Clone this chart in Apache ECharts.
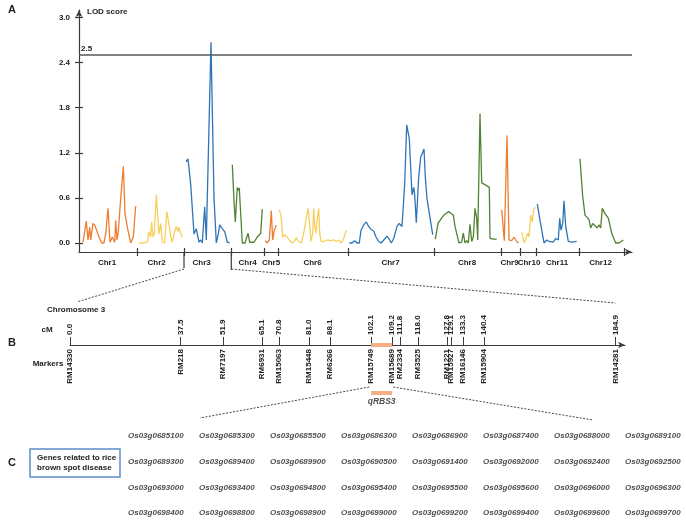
<!DOCTYPE html>
<html>
<head>
<meta charset="utf-8">
<script src="https://cdn.jsdelivr.net/npm/echarts@6/dist/echarts.min.js"></script>
<style>
  html, body { margin: 0; background: #fff; }
  #chart { width: 686px; height: 520px; }
</style>
</head>
<body>
<div id="chart"></div>
<script>
// ---- panel A: LOD curves, x = cumulative position along the genome ----
const chrNames = ["Chr1", "Chr2", "Chr3", "Chr4", "Chr5", "Chr6", "Chr7", "Chr8", "Chr9", "Chr10", "Chr11", "Chr12"];
const chrBounds = [58.7, 105, 152.3, 185, 199.3, 269.5, 355.3, 422.3, 441.3, 457.7, 500.3, 545];
const chrLabelPos = [28, 77.7, 122.7, 168.7, 192, 233.5, 311.5, 388, 430.5, 450, 478, 521.5];
const lodTicks = [0, 0.6, 1.2, 1.8, 2.4, 3.0];
const threshold = 2.5;

const chr1 = [[4, 0.01], [7.3, 0.29], [9, 0.04], [10.7, 0.21], [11.7, 0.04], [14, 0.26], [16, 0.23], [20, 0.08], [22.7, 0], [25, 0], [26.7, 0.12], [29, 0.46], [31, 0.01], [33.3, 0.08], [34.7, 0.1], [35.7, 0.01], [36.7, 0.3], [38, 0.04], [39.3, 0.15], [41.3, 0.52], [44.3, 1.02], [46, 0.39], [48.3, 0.21], [51.7, 0], [54.3, 0.08], [56.7, 0.49]];
const chr2 = [[60, 0], [65, 0], [68.3, 0.01], [70, 0.15], [71.7, 0.08], [72.7, 0.28], [74, 0.08], [75.3, 0.12], [77.3, 0.64], [78.7, 0.37], [80, 0.12], [81.7, 0.26], [83.3, 0.01], [85.7, 0], [87.7, 0.42], [89.3, 0.3], [91.7, 0.09], [93.3, 0.01], [95, 0.12], [97.3, 0.22], [99, 0.15], [100, 0.21], [101.7, 0.13], [103.3, 0.08]];
const chr3 = [[107, 1.08], [109, 1.12], [111.7, 0.78], [115, 0.12], [117.3, 0.19], [120, 0.01], [121.7, 0.04], [123.3, 0], [125.7, 0.48], [127.3, 0.04], [132, 2.67], [135, 0.6], [137.3, 0], [139.3, 0.12], [140.7, 0.24], [143.3, 0.19], [145.7, 0.15], [148.3, 0.01], [150.7, 0]];
const chr4 = [[153.3, 1.04], [155, 0.56], [156.3, 0.28], [158.3, 0.74], [159.3, 0.7], [160.3, 0.73], [161.7, 0.39], [163.3, 0], [166, 0], [167.7, 0], [169, 0.13], [170.7, 0.01], [172.3, 0], [175, 0.01], [178.3, 0.08], [181.7, 0.13], [183.3, 0.45]];
const chr5 = [[186.3, 0.03], [188, 0], [190.3, 0.04], [192.3, 0.43], [193.7, 0.04], [195.3, 0.17], [197.3, 0.24]];
const chr6 = [[200.3, 0.44], [202, 0.37], [203.7, 0.08], [205.7, 0.11], [208, 0.08], [210.3, 0.04], [213, 0], [215.3, 0.02], [217.3, 0.07], [219.7, 0.02], [222.3, 0], [224.7, 0.13], [227.3, 0.33], [229, 0.46], [230.3, 0.3], [232, 0.02], [233.7, 0.13], [234.7, 0.46], [235.7, 0.22], [237, 0.13], [238, 0.3], [239.7, 0.46], [240.7, 0.13], [242, 0.02], [244.7, 0.02], [248, 0.04], [251.3, 0.03], [254.7, 0.04], [257, 0.02], [259.7, 0.04], [262.3, 0], [264.7, 0.06], [267.3, 0.17]];
const chr7 = [[270.3, 0], [273, 0], [275.7, 0.03], [278, 0], [280.3, 0], [282, 0.17], [284.7, 0.24], [287.3, 0.28], [289.7, 0.22], [292, 0.18], [294.7, 0.16], [297, 0.08], [299.7, 0.02], [302, 0], [304.7, 0.04], [308, 0.09], [310.3, 0.05], [312.3, 0], [314.7, 0.06], [318, 0.22], [320.3, 0.26], [323, 0.22], [325.7, 0.79], [327.7, 1.57], [330.3, 1.39], [333, 0.64], [334.7, 0.74], [335.7, 0.64], [337.3, 0.27], [339.7, 0.88], [341.7, 1.14], [345, 1.25], [346.3, 0.88], [348, 0.59], [351.3, 0.31], [353.7, 0.11]];
const chr8 = [[356.3, 0.05], [359, 0.26], [364.7, 0.37], [369.7, 0.42], [374.3, 0.37], [376, 0.22], [380, 0], [382.7, 0.01], [384.3, 0.13], [386, 0], [387.7, 0.03], [389.3, 0], [391, 0.25], [392.7, 0.02], [394.3, 0.08], [396, 0.46], [397.7, 0.33], [398.7, 0.04], [401, 1.72], [402.7, 0.8], [406.7, 0.77], [410.3, 0.74], [411, 0.06], [414.3, 0.05], [417.7, 0.05]];
const chr9 = [[422.7, 0.44], [425.3, 0.03], [428, 1.43], [430, 0.04], [432.7, 0.03], [435, 0.08], [437.7, 0.02], [439.3, 0]];
const chr10 = [[442.7, 0.14], [445, 0], [447, 0.06], [448.7, 0.13], [450, 0.08], [451.7, 0.37], [453.3, 0.28], [454.7, 0.44], [456, 0.48]];
const chr11 = [[458.3, 0.52], [461, 0.3], [465, 0], [467.7, 0.04], [470, 0.02], [472, 0.04], [474.3, 0.01], [476.7, 0.06], [479.3, 0.04], [480.7, 0.33], [482, 0.17], [483.7, 0.26], [485, 0.56], [486.7, 0.22], [489.3, 0.02], [492.7, 0.01], [497.7, 0.02]];
const chr12 = [[501, 1.12], [503.7, 0.62], [506, 0.37], [507.7, 0.39], [510, 0.31], [511.7, 0.2], [513.7, 0.26], [516, 0.23], [518.3, 0.2], [520, 0.24], [521.7, 0.2], [523.3, 0.46], [526, 0.39], [529.3, 0.33], [532.7, 0.13], [536.7, 0], [540, 0], [542, 0], [544.3, 0.04]];
const chrData = [chr1, chr2, chr3, chr4, chr5, chr6, chr7, chr8, chr9, chr10, chr11, chr12];

// ---- panel B: chromosome 3 linkage map ----
const cmValues = [0.0, 37.5, 51.9, 65.1, 70.8, 81.0, 88.1, 102.1, 109.2, 111.8, 118.0, 127.8, 129.1, 133.3, 140.4, 184.9];
const markers = ["RM14330", "RM218", "RM7197", "RM6931", "RM15063", "RM15448", "RM6266", "RM15749", "RM15689", "RM2334", "RM3525", "RM1221", "RM15927", "RM16146", "RM15904", "RM14281"];
const qtlInterval = [102.1, 109.2];
const qtlName = "qRBS3";

// ---- panel C: candidate genes ----
const genes = [
  "Os03g0685100", "Os03g0685300", "Os03g0685500", "Os03g0686300", "Os03g0686900", "Os03g0687400", "Os03g0688000", "Os03g0689100",
  "Os03g0689300", "Os03g0689400", "Os03g0689900", "Os03g0690500", "Os03g0691400", "Os03g0692000", "Os03g0692400", "Os03g0692500",
  "Os03g0693000", "Os03g0693400", "Os03g0694800", "Os03g0695400", "Os03g0695500", "Os03g0695600", "Os03g0696000", "Os03g0696300",
  "Os03g0698400", "Os03g0698800", "Os03g0698900", "Os03g0699000", "Os03g0699200", "Os03g0699400", "Os03g0699600", "Os03g0699700"
];
const geneCols = 8;

// colours cycle orange / yellow / blue / green
const palette = ["#ED7D31", "#F7CF5B", "#2E75B6", "#548235"];
const AXIS = "#3a3a3a";
const TXT = "#222";
const FONT = "Liberation Sans, Arial, sans-serif";
const bold8 = { fontFamily: FONT, fontSize: 8, fontWeight: "bold", color: TXT };

const chart = echarts.init(document.getElementById("chart"));

const lodSeries = chrData.map((d, i) => ({
  name: chrNames[i],
  type: "line",
  xAxisIndex: 0,
  yAxisIndex: 0,
  data: d,
  showSymbol: false,
  lineStyle: { width: 1.3, color: palette[i % 4] },
  markLine: i === 0 ? {
    silent: true,
    symbol: "none",
    data: [{ yAxis: threshold }],
    lineStyle: { color: "#5a5a5a", width: 1.5, type: "solid" },
    label: { show: true, position: "insideStartTop", formatter: "2.5", distance: 2, ...bold8 }
  } : undefined
}));

chart.setOption({
  animation: false,
  grid: [
    { left: 79, top: 10, width: 553, height: 242 },   // A
    { left: 70, top: 345, width: 555, height: 50 },   // B
    { left: 128, top: 436, width: 497, height: 77 }   // C
  ],
  xAxis: [
    {
      gridIndex: 0, type: "value", min: 0, max: 553, position: "bottom",
      axisLine: { show: true, onZero: false, symbol: ["none", "arrow"], symbolSize: [5, 7], lineStyle: { color: AXIS, width: 1.2 } },
      axisTick: { show: true, length: 4, customValues: chrBounds, lineStyle: { color: AXIS, width: 1.2 } },
      axisLabel: { show: false },
      splitLine: { show: false }
    },
    {
      gridIndex: 0, type: "value", min: 0, max: 553, position: "bottom",
      axisLine: { show: false, onZero: false },
      axisTick: { show: true, inside: true, length: 4, customValues: chrBounds, lineStyle: { color: AXIS, width: 1.2 } },
      axisLabel: { customValues: chrLabelPos, formatter: v => chrNames[chrLabelPos.indexOf(v)], margin: 7, ...bold8 },
      splitLine: { show: false }
    },
    {
      gridIndex: 1, type: "value", min: 0, max: 555 / 2.95, position: "top",
      axisLine: { show: true, onZero: false, symbol: ["none", "arrow"], symbolSize: [5, 7], lineStyle: { color: AXIS, width: 1.2 } },
      axisTick: { show: true, length: 8, customValues: cmValues, lineStyle: { color: AXIS, width: 1 } },
      axisLabel: { customValues: cmValues, rotate: -90, margin: 10, formatter: v => v.toFixed(1), ...bold8 },
      splitLine: { show: false }
    },
    {
      gridIndex: 1, type: "value", min: 0, max: 555 / 2.95, position: "bottom", offset: -50,
      axisLine: { show: false, onZero: false },
      axisTick: { show: false },
      axisLabel: { customValues: cmValues, rotate: 90, margin: 4, formatter: v => markers[cmValues.indexOf(v)], ...bold8 },
      splitLine: { show: false }
    },
    { gridIndex: 2, type: "value", min: 0, max: geneCols - 1, show: false }
  ],
  yAxis: [
    {
      gridIndex: 0, type: "value", min: -0.12, max: 3.1, position: "left",
      axisLine: { show: true, onZero: false, symbol: ["none", "arrow"], symbolSize: [5, 7], lineStyle: { color: AXIS, width: 1.2 } },
      axisTick: { show: true, length: 4, customValues: lodTicks, lineStyle: { color: AXIS, width: 1.2 } },
      axisLabel: { customValues: lodTicks, formatter: v => v.toFixed(1), margin: 9, ...bold8 },
      splitLine: { show: false }
    },
    {
      gridIndex: 0, type: "value", min: -0.12, max: 3.1, position: "left",
      axisLine: { show: false, onZero: false },
      axisTick: { show: true, inside: true, length: 4, customValues: lodTicks, lineStyle: { color: AXIS, width: 1.2 } },
      axisLabel: { show: false },
      splitLine: { show: false }
    },
    { gridIndex: 1, type: "value", min: 0, max: 50, inverse: true, show: false },
    { gridIndex: 2, type: "value", min: 0, max: 3, inverse: true, show: false }
  ],
  series: [
    ...lodSeries,
    {
      // QTL interval on the map axis
      type: "line", xAxisIndex: 2, yAxisIndex: 2, z: 5, showSymbol: false,
      data: qtlInterval.map(v => [v, 0]),
      lineStyle: { width: 4, color: "#F4B183" }
    },
    {
      // QTL bar below the markers
      type: "line", xAxisIndex: 2, yAxisIndex: 2, showSymbol: false,
      data: qtlInterval.map(v => [v, 48]),
      lineStyle: { width: 4, color: "#F4B183" }
    },
    {
      type: "scatter", xAxisIndex: 2, yAxisIndex: 2, symbolSize: 0,
      data: [[(qtlInterval[0] + qtlInterval[1]) / 2, 48]],
      label: { show: true, position: "bottom", distance: 4, formatter: qtlName, ...bold8, fontStyle: "italic", fontSize: 8.5 }
    },
    {
      type: "scatter", xAxisIndex: 4, yAxisIndex: 3, symbolSize: 0,
      data: genes.map((g, i) => ({ value: [i % geneCols, Math.floor(i / geneCols)], name: g })),
      label: { show: true, position: "right", distance: 0, formatter: p => p.name, ...bold8, fontStyle: "italic" }
    }
  ]
});

// connectors between the panels, anchored on the axes
const axisYA = 252;
const xc3a = chart.convertToPixel({ xAxisIndex: 0 }, chrBounds[1]);
const xc3b = chart.convertToPixel({ xAxisIndex: 0 }, chrBounds[2]);
const xcm0 = chart.convertToPixel({ xAxisIndex: 2 }, cmValues[0]);
const xcmEnd = chart.convertToPixel({ xAxisIndex: 2 }, cmValues[cmValues.length - 1]);
const xq0 = chart.convertToPixel({ xAxisIndex: 2 }, qtlInterval[0]);
const xq1 = chart.convertToPixel({ xAxisIndex: 2 }, qtlInterval[1]);

const solid = { stroke: AXIS, lineWidth: 1.2 };
const dashed = { stroke: "#444", lineWidth: 1, lineDash: [2, 1.5] };
const text = (x, y, str, extra) => ({
  type: "text", x: x, y: y,
  style: Object.assign({ text: str, font: "bold 8px " + FONT, fill: TXT, align: "left", verticalAlign: "middle" }, extra || {})
});

chart.setOption({
  graphic: [
    { type: "line", shape: { x1: xc3a, y1: axisYA, x2: xc3a, y2: 268 }, style: solid },
    { type: "line", shape: { x1: xc3b, y1: axisYA, x2: xc3b, y2: 270 }, style: solid },
    { type: "line", shape: { x1: xc3a, y1: 269, x2: xcm0 + 7, y2: 302 }, style: dashed },
    { type: "line", shape: { x1: xc3b, y1: 269, x2: xcmEnd, y2: 303 }, style: dashed },
    { type: "line", shape: { x1: xq0 - 2, y1: 387, x2: 200, y2: 418 }, style: dashed },
    { type: "line", shape: { x1: xq1 + 1, y1: 387, x2: 593, y2: 420 }, style: dashed },
    text(8, 10, "A", { font: "bold 11px " + FONT }),
    text(8, 343, "B", { font: "bold 11px " + FONT }),
    text(8, 463, "C", { font: "bold 11px " + FONT }),
    text(87, 12, "LOD score"),
    text(47, 310, "Chromosome 3"),
    text(47, 330, "cM", { align: "center" }),
    text(48, 364, "Markers", { align: "center" }),
    { type: "rect", shape: { x: 30, y: 449, width: 90, height: 28 }, style: { fill: "#fff", stroke: "#5B8FC9", lineWidth: 1.5 } },
    text(37, 458, "Genes related to rice"),
    text(37, 468, "brown spot disease")
  ]
});
</script>
</body>
</html>
